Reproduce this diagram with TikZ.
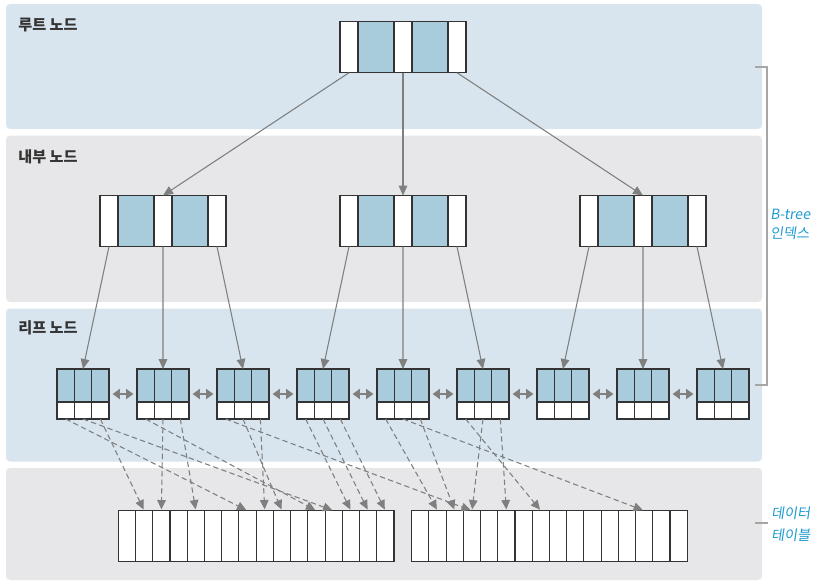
\documentclass[tikz,border=0pt]{standalone}
\usepackage{fontspec}
\newfontfamily\kr{Noto Sans CJK KR}
\newfontfamily\krs{Noto Sans CJK KR}[FakeSlant=0.15]
\usetikzlibrary{arrows.meta,calc}
\definecolor{bandblue}{HTML}{D8E5EE}
\definecolor{bandgray}{HTML}{E7E7E9}
\definecolor{cellblue}{HTML}{A8CCDC}
\definecolor{borderc}{HTML}{333333}
\definecolor{arrowc}{HTML}{7F7F7F}
\definecolor{labelc}{HTML}{333333}
\definecolor{cyanc}{HTML}{1E9BD0}
\definecolor{bracketc}{HTML}{A6A6A6}
\begin{document}
\begin{tikzpicture}[x=0.75pt,y=-0.75pt,
  cellw/.style={draw=borderc, line width=0.8pt, inner sep=0pt, outer sep=0pt,
    anchor=north west, minimum width=#1*0.75pt},
  leafbox/.style={inner sep=0pt, outer sep=0pt, minimum width=52*0.75pt, minimum height=50*0.75pt},
  solidarrow/.style={draw=arrowc, line width=0.8pt, -{Triangle[length=7.5pt,width=6.5pt]}},
  dasharrow/.style={draw=arrowc, line width=0.8pt, dash pattern=on 4pt off 2.5pt,
    shorten >=1pt, -{Triangle[length=7pt,width=6.5pt]}},
  dblarrow/.style={draw=arrowc, line width=1.6pt, shorten >=2.7pt, shorten <=2.7pt,
    {Triangle[length=5.5pt,width=7.5pt]}-{Triangle[length=5.5pt,width=7.5pt]}},
  sectlabel/.style={anchor=west, inner sep=0pt, text=labelc, font=\kr\bfseries\fontsize{11.4}{13}\selectfont},
  bluelabel/.style={anchor=west, inner sep=0pt, text=cyanc, font=\krs\fontsize{10.6}{12}\selectfont},
  bracket/.style={draw=bracketc, line width=0.9pt}
]
\useasboundingbox (0,0) rectangle (820,586);
% bands
\fill[bandblue, rounded corners=3pt] (6,4) rectangle (762,129);
\fill[bandgray, rounded corners=3pt] (6,135.5) rectangle (762,302);
\fill[bandblue, rounded corners=3pt] (6,308.5) rectangle (762,461.5);
\fill[bandgray, rounded corners=3pt] (6,468) rectangle (762,580);
% section labels
\node[sectlabel] (t1) at (18,25) {루트 노드};
\node[sectlabel] (t2) at (18,156.5) {내부 노드};
\node[sectlabel] (t3) at (18,328) {리프 노드};
% root node
\foreach \nm/\dx/\w/\c in {a/0/18/white, b/18/36/cellblue, c/54/18/white, d/72/36/cellblue, e/108/18/white}
  \node[cellw=\w, minimum height=51*0.75pt, fill=\c] (r\nm) at (340+\dx,21.7) {};
% internal nodes
\foreach \k/\x in {1/100,2/340,3/580}
  \foreach \nm/\dx/\w/\c in {a/0/18/white, b/18/36/cellblue, c/54/18/white, d/72/36/cellblue, e/108/18/white}
    \node[cellw=\w, minimum height=51*0.75pt, fill=\c] (i\k\nm) at (\x+\dx,195.5) {};
% leaf nodes
\foreach \k in {1,...,9} {
  \pgfmathsetmacro\lx{57+80*(\k-1)}
  \node[leafbox] (leaf\k) at (\lx+26,394) {};
  \foreach \j in {1,2,3} {
    \node[cellw=17.33, minimum height=33*0.75pt, fill=cellblue] (lt\k\j) at (\lx+17.33*\j-17.33,369) {};
    \node[cellw=17.33, minimum height=17*0.75pt, fill=white] (lb\k\j) at (\lx+17.33*\j-17.33,402) {};
  }
}
% data tables
\foreach \i in {0,...,15} {
  \node[cellw=17.23, minimum height=51*0.75pt, fill=white] (L\i) at (118.3+17.23*\i,510.7) {};
  \node[cellw=17.22, minimum height=51*0.75pt, fill=white] (R\i) at (411.7+17.22*\i,510.7) {};
}
% root -> internal
\draw[solidarrow] (ra.south) -- (i1c.north);
\draw[solidarrow] (rc.south) -- (i2c.north);
\draw[solidarrow] (re.south) -- (i3c.north);
% internal -> leaves
\foreach \k/\p/\q/\r in {1/1/2/3, 2/4/5/6, 3/7/8/9} {
  \draw[solidarrow] (i\k a.south) -- (lt\p2.north);
  \draw[solidarrow] (i\k c.south) -- (lt\q2.north);
  \draw[solidarrow] (i\k e.south) -- (lt\r2.north);
}
% sibling links
\foreach \k [evaluate=\k as \n using int(\k+1)] in {1,...,8}
  \draw[dblarrow] (leaf\k.east) -- (leaf\n.west);
% leaf -> data
\foreach \s/\t in {11/L7, 12/L12, 13/L1, 21/L11, 22/L2, 23/L4, 31/R3, 32/L9, 33/L8,
                   41/L13, 42/L14, 43/L15, 51/R1, 52/R13, 53/R2, 61/R7, 62/R3, 63/R5}
  \draw[dasharrow] (lb\s.south) -- (\t.north);
% right side
\draw[bracket] (755,67) -- (767,67) -- (767,385) -- (755,385);
\draw[bracket] (755,523) -- (768,523);
\node[bluelabel] (bt1) at (770,214) {B-tree};
\node[bluelabel] (bt2) at (770,233.5) {인덱스};
\node[bluelabel] (dt1) at (771,513) {데이터};
\node[bluelabel] (dt2) at (771,535) {테이블};
\end{tikzpicture}
\end{document}
